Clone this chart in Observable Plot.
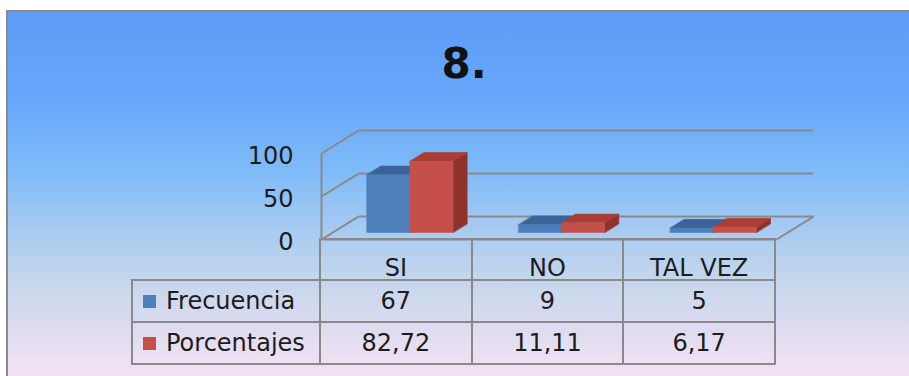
<!DOCTYPE html>
<html>
<head>
<meta charset="utf-8">
<script src="https://cdn.jsdelivr.net/npm/d3@7"></script>
<script src="https://cdn.jsdelivr.net/npm/@observablehq/plot@0.6"></script>
<style>
  html, body { margin: 0; padding: 0; background: #ffffff; }
  #frame {
    position: relative; width: 909px; height: 376px; overflow: hidden;
    font-family: "DejaVu Sans", sans-serif; color: #1c1c1c;
  }
  #panel {
    position: absolute; left: 6px; top: 10px; width: 940px; height: 370px;
    border: 2px solid #8a8a8a;
    background: linear-gradient(to bottom,
      #5e9cf8 0%, #66a7fa 24%, #7fbbf8 43%, #a7cbf1 59%,
      #c4d6ec 72%, #dfdcf0 86%, #f7e4f4 100%);
  }
  #chart { position: absolute; left: 0; top: 0; }
  #title {
    position: absolute; left: 464px; top: 43px; transform: translateX(-50%);
    font-weight: bold; font-size: 42px; line-height: 42px; color: #111;
    white-space: nowrap;
  }
  #table {
    position: absolute; border-spacing: 0; border-collapse: separate;
    table-layout: fixed; font-size: 24px;
  }
  #table tr { box-sizing: border-box; }
  #table td {
    box-sizing: border-box; padding: 0; vertical-align: top;
    line-height: 20px; text-align: center; white-space: nowrap; overflow: visible;
  }
  .key {
    display: inline-block; width: 13px; height: 13px; margin-right: 10px;
    vertical-align: 1px;
  }
</style>
</head>
<body>
<div id="frame">
  <div id="panel"></div>
  <div id="chart"></div>
  <div id="title">8.</div>
</div>
<script>
// Survey answers and the two series shown per answer
const categories = ["SI", "NO", "TAL VEZ"];
const seriesNames = ["Frecuencia", "Porcentajes"];
const frecuencia = [67, 9, 5];
const porcentajes = [82.72, 11.11, 6.17];
const yTicks = [0, 50, 100];

const seriesValues = [frecuencia, porcentajes];

// Face colours for each series (front, top, right side)
const palette = [
  {front: "#4d7fbd", top: "#3b6398", side: "#325687"},
  {front: "#c5504a", top: "#a93e37", side: "#91312b"}
];
const gridColor = "#8a8a8a";

// Oblique projection of the 3-D box into the x/y data space:
// a point at depth z (0 = front, 1 = back) shifts right and up.
const DEPTH_X = 0.244;
const DEPTH_Y = 26.7;
const Z_FRONT = 0.31, Z_BACK = 0.69;
const SLOTS = [[0.224, 0.508], [0.508, 0.792]];
const px = (x, z) => x + z * DEPTH_X;
const py = (y, z) => y + z * DEPTH_Y;

const nCat = categories.length;
const xRange = [321, 776];
const yRange = [239, 153];

// Walls and floor outline
const wall = [];
for (const t of yTicks) {
  // back wall gridline
  wall.push({x1: px(0, 1), y1: py(t, 1), x2: px(nCat, 1), y2: py(t, 1)});
  // left wall gridline
  wall.push({x1: px(0, 0), y1: py(t, 0), x2: px(0, 1), y2: py(t, 1)});
}
wall.push({x1: px(0, 0), y1: py(0, 0), x2: px(0, 0), y2: py(yTicks[yTicks.length - 1], 0)});
wall.push({x1: px(0, 0), y1: py(0, 0), x2: px(nCat, 0), y2: py(0, 0)});
wall.push({x1: px(nCat, 0), y1: py(0, 0), x2: px(nCat, 1), y2: py(0, 1)});

// Bar faces as closed polygons, listed back-to-front for painting
const faces = [];
categories.forEach((cat, i) => {
  seriesValues.forEach((vals, s) => {
    const v = vals[i];
    const xl = i + SLOTS[s][0], xr = i + SLOTS[s][1];
    const corners = {
      side: [[xr, 0, Z_FRONT], [xr, v, Z_FRONT], [xr, v, Z_BACK], [xr, 0, Z_BACK]],
      top: [[xl, v, Z_FRONT], [xr, v, Z_FRONT], [xr, v, Z_BACK], [xl, v, Z_BACK]],
      front: [[xl, 0, Z_FRONT], [xr, 0, Z_FRONT], [xr, v, Z_FRONT], [xl, v, Z_FRONT]]
    };
    for (const face of ["side", "top", "front"]) {
      const id = `${cat}-${s}-${face}`;
      for (const [x, y, z] of corners[face]) {
        faces.push({id, color: palette[s][face], x: px(x, z), y: py(y, z)});
      }
    }
  });
});

const chart = Plot.plot({
  width: 909,
  height: 376,
  margin: 0,
  x: {type: "linear", domain: [0, nCat], range: xRange, axis: null},
  y: {type: "linear", domain: [0, 100], range: yRange, axis: null},
  color: {type: "identity"},
  style: {background: "transparent", fontFamily: "DejaVu Sans", color: "#1c1c1c", overflow: "visible"},
  marks: [
    Plot.link(wall, {x1: "x1", y1: "y1", x2: "x2", y2: "y2", stroke: gridColor, strokeWidth: 2}),
    Plot.line(faces, {x: "x", y: "y", z: "id", fill: "color", stroke: "color", strokeWidth: 0.6, curve: "linear-closed"}),
    Plot.text(yTicks, {x: () => 0, y: d => d, text: d => String(d), textAnchor: "end", dx: -28, dy: 3, fontSize: 24, fill: "#1c1c1c"})
  ]
});
document.getElementById("chart").appendChild(chart);

// Data table under the plot, columns aligned on the same x mapping
const xs = d3.scaleLinear().domain([0, nCat]).range(xRange);
const fmt = {
  Frecuencia: v => String(v),
  Porcentajes: v => d3.format(".2f")(v).replace(".", ",")
};
const labelLeft = 131;
const rowHeights = [43, 42, 42];
const border = `2px solid ${gridColor}`;

const table = document.createElement("table");
table.id = "table";
table.style.left = labelLeft + "px";
table.style.top = (yRange[0] - 1) + "px";
const colWidths = [xs(0) - labelLeft, ...categories.map((_, i) => xs(i + 1) - xs(i))];
const colgroup = document.createElement("colgroup");
colWidths.forEach(w => {
  const col = document.createElement("col");
  col.style.width = w + "px";
  colgroup.appendChild(col);
});
table.appendChild(colgroup);
table.style.width = d3.sum(colWidths) + "px";

// header row
const head = document.createElement("tr");
head.style.height = rowHeights[0] + "px";
const corner = document.createElement("td");
corner.style.borderRight = border;
corner.style.borderBottom = border;
head.appendChild(corner);
categories.forEach(cat => {
  const td = document.createElement("td");
  td.textContent = cat;
  td.style.borderTop = border;
  td.style.borderRight = border;
  td.style.borderBottom = border;
  td.style.paddingTop = "18px";
  head.appendChild(td);
});
table.appendChild(head);

// one row per series
seriesNames.forEach((name, s) => {
  const tr = document.createElement("tr");
  tr.style.height = rowHeights[s + 1] + "px";
  const lab = document.createElement("td");
  lab.style.borderLeft = border;
  lab.style.borderRight = border;
  lab.style.borderBottom = border;
  lab.style.textAlign = "left";
  lab.style.paddingLeft = "10px";
  lab.style.paddingTop = "10px";
  const key = document.createElement("span");
  key.className = "key";
  key.style.background = palette[s].front;
  lab.appendChild(key);
  lab.appendChild(document.createTextNode(name));
  tr.appendChild(lab);
  seriesValues[s].forEach(v => {
    const td = document.createElement("td");
    td.textContent = fmt[name](v);
    td.style.borderRight = border;
    td.style.borderBottom = border;
    td.style.paddingTop = "10px";
    tr.appendChild(td);
  });
  table.appendChild(tr);
});
document.getElementById("frame").appendChild(table);
</script>
</body>
</html>
